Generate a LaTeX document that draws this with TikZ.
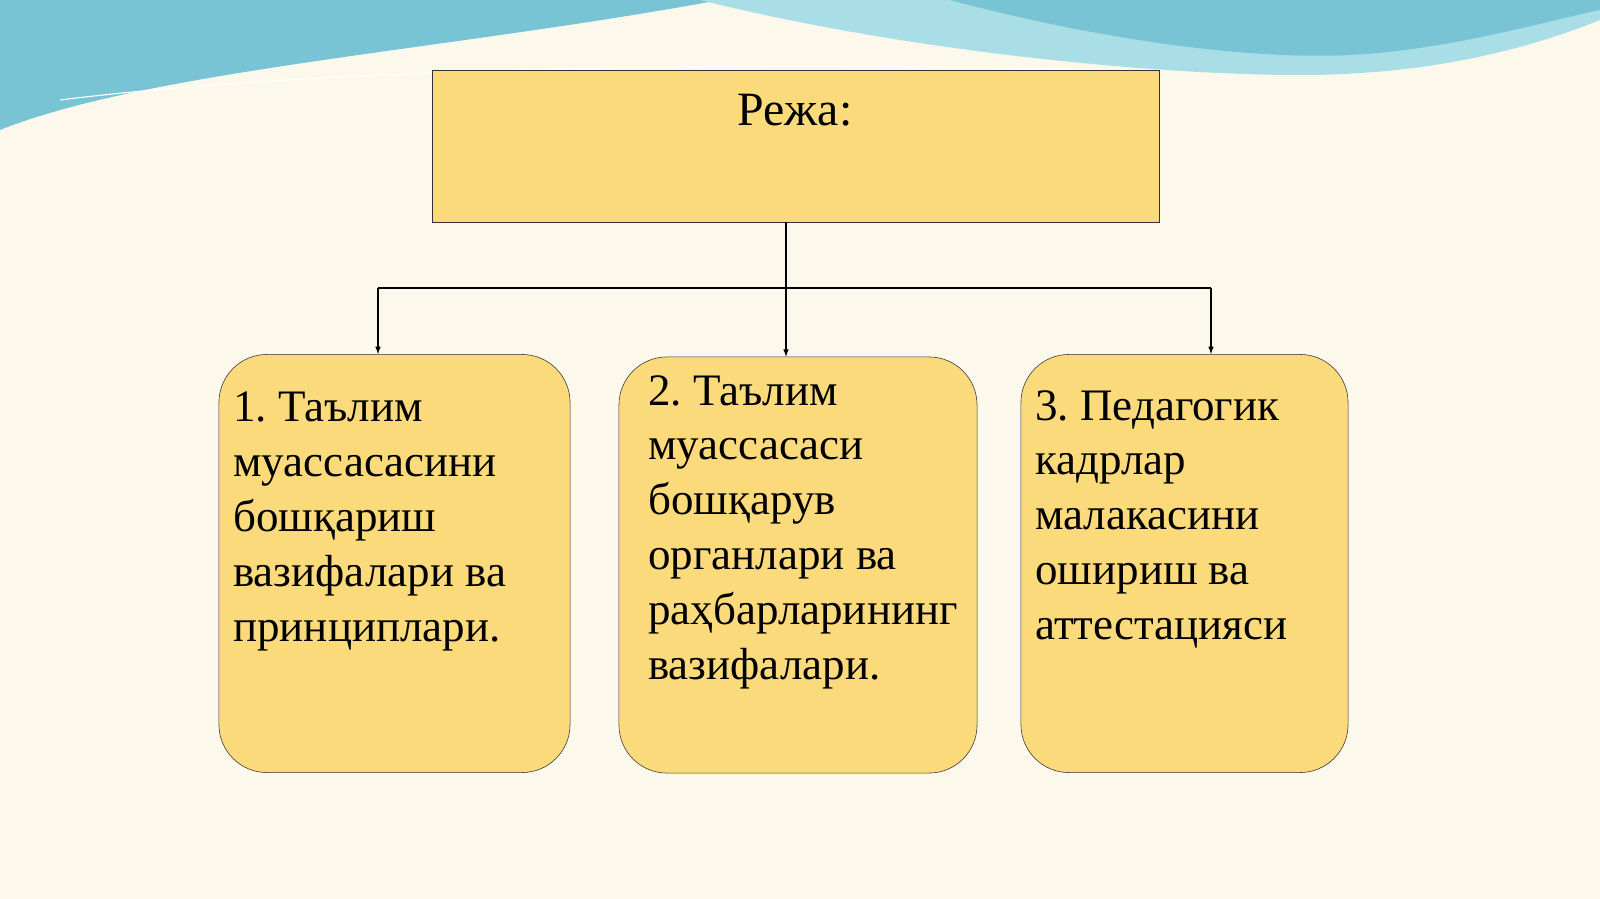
\documentclass[tikz,border=0pt]{standalone}
\usepackage{fontspec}
\setmainfont{Liberation Serif}
\usetikzlibrary{positioning}
\definecolor{boxfill}{RGB}{250,218,122}
\definecolor{bgcream}{RGB}{253,248,236}
\definecolor{wave}{RGB}{120,196,212}
\definecolor{wavelight}{RGB}{170,222,230}
\frenchspacing
\begin{document}
\begin{tikzpicture}[x=0.025cm,y=-0.025cm,
        title/.style={rectangle, draw=black!80, fill=boxfill, minimum width=18.175cm, minimum height=3.8cm, inner sep=0pt},
        item/.style={rectangle, rounded corners=1.2cm, draw=black!80, fill=boxfill, minimum height=10.45cm, inner sep=0pt},
        txt/.style={anchor=north west, align=left, inner sep=0pt, font=\fontsize{32}{39}\selectfont},
        link/.style={-latex, black}
        ]
        % background
        \fill[bgcream] (0,0) rectangle (1600,899);
        \fill[wave] (0,0) -- (0,130) .. controls (150,70) and (450,50) .. (720,0) -- cycle;
        \fill[wavelight] (700,0) .. controls (900,50) and (1150,75) .. (1300,75)
            .. controls (1450,75) and (1550,40) .. (1600,20) -- (1600,0) -- cycle;
        \fill[wave] (950,0) .. controls (1100,40) and (1250,60) .. (1350,55)
            .. controls (1450,50) and (1550,20) .. (1600,10) -- (1600,0) -- cycle;
        \draw[white, thick] (60,100) .. controls (300,70) and (700,60) .. (1100,70);
        \useasboundingbox (0,0) rectangle (1600,899);

        \node[title]                        (reja)  at (795.5,146) {};
        \node[font=\fontsize{34}{40}\selectfont] (rejaT) at (795,110) {Режа:};

        \node[item, minimum width=8.775cm]  (one)   at (394.5,563.5) {};
        \node[item, minimum width=8.95cm, minimum height=10.4cm] (two) at (798,565) {};
        \node[item, minimum width=8.175cm]  (three) at (1184.5,563.5) {};

        \node[txt] (oneT)   at (233,392) {1. Таълим\\муассасасини\\бошқариш\\вазифалари ва\\принциплари.};
        \node[txt] (twoT)   at (648,375) {2. Таълим\\муассасаси\\бошқарув\\органлари ва\\раҳбарларининг\\вазифалари.};
        \node[txt] (threeT) at (1035,390) {3. Педагогик\\кадрлар\\малакасини\\ошириш ва\\аттестацияси};

        %Lines
        \coordinate (split) at (786,288);
        \draw[thick] (reja.south -| split) -- (split);
        \draw[thick] (378,288) -- (1211,288);
        \draw[link, thick] (378,288) -- (378,354);
        \draw[link, thick] (split) -- (two.north -| split);
        \draw[link, thick] (1211,288) -- (1211,354);
\end{tikzpicture}
\end{document}
